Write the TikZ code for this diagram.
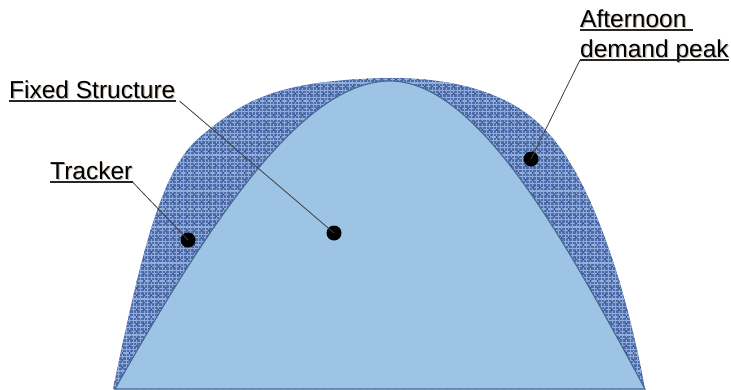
\documentclass[tikz,border=0pt]{standalone}
\usepackage{fontspec}
\setmainfont{Liberation Sans}
\usetikzlibrary{patterns.meta}
\definecolor{ringbase}{RGB}{78,108,170}
\definecolor{ringlight}{RGB}{150,178,225}
\definecolor{ringdark}{RGB}{50,75,135}
\definecolor{innerfill}{RGB}{157,195,229}
\definecolor{innerline}{RGB}{65,105,145}
\definecolor{shade}{RGB}{150,130,110}
\tikzset{
  lbl/.style={anchor=base west, inner sep=0pt, font=\fontsize{24.5}{30}\selectfont},
  lblshadow/.style={lbl, text=shade, opacity=0.55},
  ul/.style={line width=1.6pt, black!85},
  leader/.style={line width=0.8pt, black!75},
  dot/.style={circle, fill=black, inner sep=0pt, minimum size=15pt},
}
\begin{document}
\begin{tikzpicture}[x=1pt,y=-1pt]
\useasboundingbox (0,0) rectangle (731,389);
\def\outerpath{(113,389) .. controls (140,260) and (160,170) .. (200,137) .. controls (240,104) and (270,80) .. (390,78) .. controls (470,78) and (520,100) .. (550,135) .. controls (590,180) and (625,280) .. (645,389) -- cycle}
\def\innerpath{(115,389) .. controls (205,230) and (300,81) .. (390,81) .. controls (480,81) and (570,250) .. (645,389) -- cycle}
% textured ring
\fill[ringbase] \outerpath;
\fill[pattern={Lines[distance=3.6pt,angle=0,line width=1.1pt]}, pattern color=ringlight] \outerpath;
\fill[pattern={Lines[distance=3.6pt,angle=90,line width=1pt]}, pattern color=ringlight!85!ringbase] \outerpath;
\fill[pattern={Dots[distance=7.2pt,radius=1.1pt]}, pattern color=ringdark] \outerpath;
% inner bell
\filldraw[fill=innerfill, draw=innerline, line width=1.1pt] \innerpath;
% label shadows
\node[lblshadow] at (10.2,99.2) {Fixed Structure};
\node[lblshadow] at (51.2,180.2) {Tracker};
\node[lblshadow] at (581.2,28.2) {Afternoon};
\node[lblshadow] at (581.2,58.2) {demand peak};
% labels
\node[lbl] (fs) at (9,98) {Fixed Structure};
\node[lbl] (tr) at (50,179) {Tracker};
\node[lbl] (af1) at (580,27) {Afternoon};
\node[lbl] (af2) at (580,57) {demand peak};
\coordinate (fsL) at ([yshift=-3pt]fs.base west);
\coordinate (fsR) at ([yshift=-3pt]fs.base east);
\coordinate (trL) at ([yshift=-3pt]tr.base west);
\coordinate (trR) at ([yshift=-3pt]tr.base east);
\coordinate (af1L) at ([yshift=-3pt]af1.base west);
\coordinate (af1R) at ([xshift=6.8pt,yshift=-3pt]af1.base east);
\coordinate (af2L) at ([yshift=-3pt]af2.base west);
\coordinate (af2R) at ([yshift=-3pt]af2.base east);
\draw[ul] (fsL) -- (fsR);
\draw[ul] (trL) -- (trR);
\draw[ul] (af1L) -- (af1R);
\draw[ul] (af2L) -- (af2R);
% dots
\node[dot] (dtr) at (188,240) {};
\node[dot] (dfs) at (334,233) {};
\node[dot] (daf) at (531,159) {};
% leaders
\draw[leader] (trR) -- (dtr.center);
\draw[leader] ([xshift=4pt]fsR) -- (dfs.center);
\draw[leader] (af2L) -- (daf.center);
\end{tikzpicture}
\end{document}
